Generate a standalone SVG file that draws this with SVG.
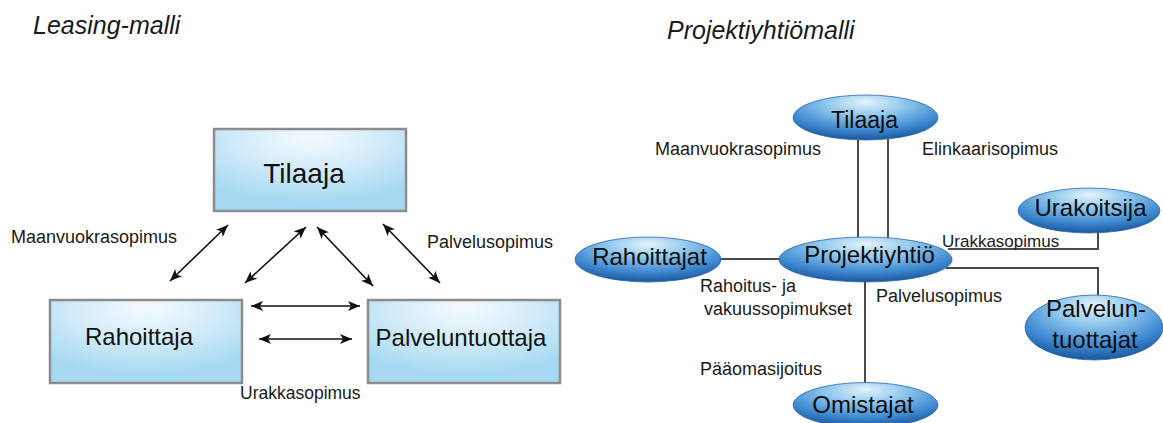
<svg xmlns="http://www.w3.org/2000/svg" width="1163" height="423" viewBox="0 0 1163 423">
  <style>
    .title { font-family: "Liberation Sans", Arial, sans-serif; font-style: italic; font-size: 25px; fill: #1a1a1a; }
    .lbl { font-family: "Liberation Sans", Arial, sans-serif; font-size: 18px; fill: #1a1a1a; }
    .box { fill: url(#boxFill); stroke: #8c8c8c; stroke-width: 2.5; }
    .boxTxt { font-family: "Liberation Sans", Arial, sans-serif; font-size: 24px; fill: #111; text-anchor: middle; }
    .oval { fill: url(#ovalFill); stroke: #2b6aa8; stroke-width: 0.8; }
    .ovalTxt { font-family: "Liberation Sans", Arial, sans-serif; font-size: 24px; fill: #0d0d0d; text-anchor: middle; }
    .arrow { stroke: #111; stroke-width: 1.6; fill: none; marker-start: url(#head); marker-end: url(#head); }
    .link { stroke: #4a4a4a; stroke-width: 2; fill: none; }
  </style>
  <defs>
    <radialGradient id="boxFill" cx="0.5" cy="0.15" r="0.75" fx="0.5" fy="0.1">
      <stop offset="0" stop-color="#f4fafe"/>
      <stop offset="0.45" stop-color="#d6edf9"/>
      <stop offset="1" stop-color="#a5d9f1"/>
    </radialGradient>
    <radialGradient id="ovalFill" cx="0.5" cy="0.25" r="0.75" fx="0.5" fy="0.15">
      <stop offset="0" stop-color="#e4f3fc"/>
      <stop offset="0.35" stop-color="#93c9ee"/>
      <stop offset="0.75" stop-color="#3c87cf"/>
      <stop offset="1" stop-color="#1c579c"/>
    </radialGradient>
    <marker id="head" viewBox="0 0 12 10" refX="12" refY="5" markerWidth="12" markerHeight="10" markerUnits="userSpaceOnUse" orient="auto-start-reverse">
      <path d="M0,0 L12,5 L0,10 L3,5 Z" fill="#111"/>
    </marker>
  </defs>

  <!-- Titles -->
  <text class="title" x="33" y="34">Leasing-malli</text>
  <text class="title" x="667" y="39">Projektiyhtiömalli</text>

  <!-- Leasing model: connectors -->
  <g id="leasing-connectors">
    <line class="arrow" x1="170" y1="281" x2="228" y2="225"/>
    <line class="arrow" x1="245" y1="283" x2="306" y2="227"/>
    <line class="arrow" x1="317" y1="227" x2="373" y2="286"/>
    <line class="arrow" x1="383" y1="224" x2="440" y2="283"/>
    <line class="arrow" x1="251" y1="306" x2="360" y2="306"/>
    <line class="arrow" x1="259" y1="339" x2="352" y2="339"/>
    <text class="lbl" x="11" y="243">Maanvuokrasopimus</text>
    <text class="lbl" x="427" y="248">Palvelusopimus</text>
    <text class="lbl" x="240" y="399" style="font-size:17.5px">Urakkasopimus</text>
  </g>

  <!-- Leasing model: nodes -->
  <g id="l-tilaaja">
    <rect class="box" x="214" y="129" width="192" height="82"/>
    <text class="boxTxt" x="304" y="183" style="font-size:28px">Tilaaja</text>
  </g>
  <g id="l-rahoittaja">
    <rect class="box" x="50" y="300" width="192" height="83"/>
    <text class="boxTxt" x="139" y="345">Rahoittaja</text>
  </g>
  <g id="l-palveluntuottaja">
    <rect class="box" x="368" y="300" width="192" height="83"/>
    <text class="boxTxt" x="461" y="346">Palveluntuottaja</text>
  </g>

  <!-- Project company model: connectors -->
  <g id="project-connectors">
    <path class="link" d="M858,140 V238"/>
    <path class="link" d="M888,139 V238"/>
    <path class="link" d="M720,259 H780"/>
    <path class="link" d="M948,249 H1098 V232"/>
    <path class="link" d="M946,268 H1098 V296"/>
    <path class="link" d="M865,281 V383"/>
    <text class="lbl" x="655" y="155">Maanvuokrasopimus</text>
    <text class="lbl" x="922" y="155">Elinkaarisopimus</text>
    <text class="lbl" x="942" y="247" style="font-size:17px">Urakkasopimus</text>
    <text class="lbl" x="700" y="292">Rahoitus- ja</text>
    <text class="lbl" x="704" y="315">vakuussopimukset</text>
    <text class="lbl" x="876" y="302">Palvelusopimus</text>
    <text class="lbl" x="700" y="375">Pääomasijoitus</text>
  </g>

  <!-- Project company model: nodes -->
  <g id="p-tilaaja">
    <ellipse class="oval" cx="865.5" cy="117.5" rx="72.5" ry="22.5"/>
    <text class="ovalTxt" x="864.5" y="128" style="font-size:23px">Tilaaja</text>
  </g>
  <g id="p-urakoitsija">
    <ellipse class="oval" cx="1089" cy="210.5" rx="71" ry="22.5"/>
    <text class="ovalTxt" x="1090.5" y="216">Urakoitsija</text>
  </g>
  <g id="p-rahoittajat">
    <ellipse class="oval" cx="648" cy="259.5" rx="73" ry="22.5"/>
    <text class="ovalTxt" x="649.5" y="265">Rahoittajat</text>
  </g>
  <g id="p-projektiyhtio">
    <ellipse class="oval" cx="865.5" cy="259.5" rx="86.5" ry="22.5"/>
    <text class="ovalTxt" x="869.5" y="263">Projektiyhtiö</text>
  </g>
  <g id="p-palveluntuottajat">
    <ellipse class="oval" cx="1094" cy="327.5" rx="69" ry="32.5"/>
    <text class="ovalTxt" x="1096" y="317">Palvelun-</text>
    <text class="ovalTxt" x="1095" y="348">tuottajat</text>
  </g>
  <g id="p-omistajat">
    <ellipse class="oval" cx="865.5" cy="405" rx="72.5" ry="22.5"/>
    <text class="ovalTxt" x="863" y="413">Omistajat</text>
  </g>
</svg>
